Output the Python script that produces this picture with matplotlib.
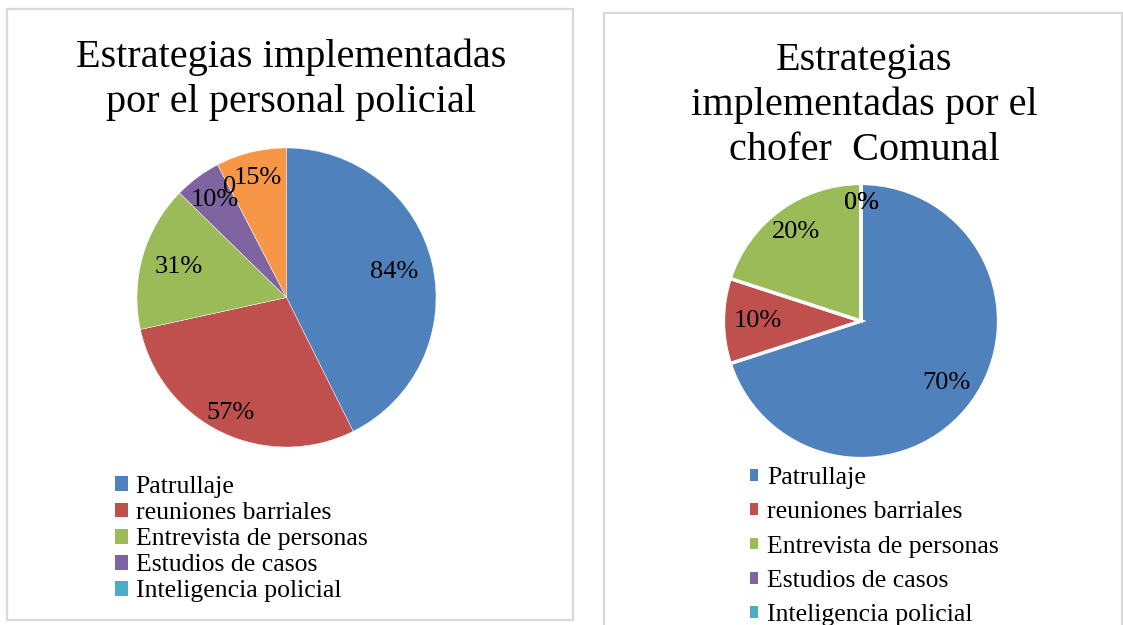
import numpy as np
import matplotlib.pyplot as plt
from matplotlib.patches import Patch, Rectangle

# data
categorias = ["Patrullaje", "reuniones barriales", "Entrevista de personas",
              "Estudios de casos", "Inteligencia policial"]
policial_vals = [84, 57, 31, 10, 0, 15]
policial_labels = ["84%", "57%", "31%", "10%", "0", "15%"]
chofer_vals = [70, 10, 20, 0, 0]
chofer_labels = ["70%", "10%", "20%", "0%", "0%"]

colores = ["#4F81BD", "#C0504D", "#9BBB59", "#8064A2", "#4BACC6", "#F79646"]

W, H = 1123, 625
plt.rcParams["font.family"] = ["Liberation Serif", "DejaVu Serif"]

fig = plt.figure(figsize=(W / 100, H / 100), dpi=100)


def px_axes(cx, cy, r):
    return fig.add_axes([(cx - r) / W, 1 - (cy + r) / H, 2 * r / W, 2 * r / H])


def frame(x0, y0, x1, y1):
    fig.patches.append(Rectangle((x0 / W, 1 - y1 / H), (x1 - x0) / W, (y1 - y0) / H,
                                 transform=fig.transFigure, facecolor="none",
                                 edgecolor="#d9d9d9", linewidth=1.6))


def draw_pie(ax, vals, labels, radii, edge_w):
    wedges, _ = ax.pie(vals, colors=colores[:len(vals)], startangle=90, counterclock=False,
                       radius=1, wedgeprops={"edgecolor": "white", "linewidth": edge_w})
    for w, txt, rf in zip(wedges, labels, radii):
        ang = np.deg2rad((w.theta1 + w.theta2) / 2)
        ax.text(rf * np.cos(ang), rf * np.sin(ang), txt, ha="center", va="center",
                fontsize=19, color="black")
    ax.set_xlim(-1.01, 1.01)
    ax.set_ylim(-1.01, 1.01)
    ax.set_aspect("equal")
    ax.axis("off")


frame(7, 9, 573, 620)
frame(604, 13, 1122, 640)

ax1 = px_axes(286.5, 297.5, 151)
draw_pie(ax1, policial_vals, policial_labels, [0.74, 0.86, 0.75, 0.81, 0.83, 0.82], 0.3)

ax2 = px_axes(861, 321, 139)
draw_pie(ax2, chofer_vals, chofer_labels, [0.77, 0.75, 0.8, 0.86, 0.86], 2.5)

fig.text(291 / W, 1 - 39 / H, "Estrategias implementadas\npor el personal policial",
         ha="center", va="top", fontsize=29, linespacing=1.27)
fig.text(864 / W, 1 - 42 / H, "Estrategias\nimplementadas por el\nchofer  Comunal",
         ha="center", va="top", fontsize=29, linespacing=1.27)

handles = [Patch(facecolor=c, edgecolor="none") for c in colores[:5]]
fig.legend(handles, categorias, loc="upper left", bbox_to_anchor=(115 / W, 1 - 476 / H),
           frameon=False, fontsize=18.5, borderpad=0, borderaxespad=0, labelspacing=0.16,
           handlelength=0.52, handleheight=0.52, handletextpad=0.28)
fig.legend(handles, categorias, loc="upper left", bbox_to_anchor=(750 / W, 1 - 467 / H),
           frameon=False, fontsize=18.5, borderpad=0, borderaxespad=0, labelspacing=0.48,
           handlelength=0.33, handleheight=0.33, handletextpad=0.35)

fig.savefig("out.png", dpi=100)
